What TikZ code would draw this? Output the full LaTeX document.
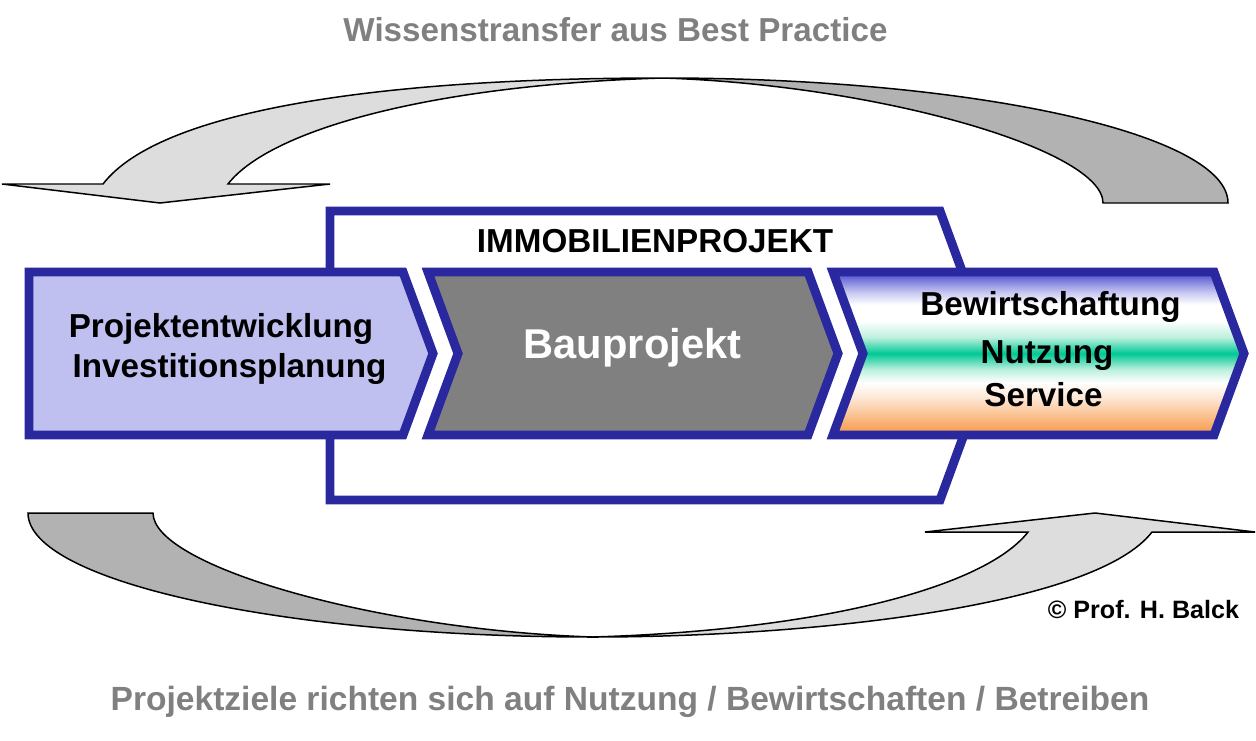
\documentclass[tikz,border=0pt]{standalone}
\usepackage{fontspec}
\setmainfont{Liberation Sans}
\definecolor{rahmen}{RGB}{42,40,158}
\definecolor{lavendel}{RGB}{191,191,240}
\definecolor{grau}{RGB}{128,128,128}
\definecolor{hell}{RGB}{221,221,221}
\definecolor{dunkel}{RGB}{178,178,178}
\definecolor{bwblau}{RGB}{70,70,205}
\definecolor{bwlila}{RGB}{195,195,240}
\definecolor{bwgruen}{RGB}{0,200,150}
\definecolor{bwmint}{RGB}{190,240,222}
\definecolor{bwpfirsich}{RGB}{253,228,208}
\definecolor{bwapricot}{RGB}{250,186,130}
\definecolor{bworange}{RGB}{245,150,70}
\pgfdeclareverticalshading{bwshade}{100bp}{color(0bp)=(bworange); color(25bp)=(bworange); color(30bp)=(bwapricot); color(36bp)=(bwpfirsich); color(41bp)=(white); color(45bp)=(bwmint); color(50bp)=(bwgruen); color(55bp)=(bwmint); color(60bp)=(white); color(65bp)=(white); color(69bp)=(bwlila); color(75bp)=(bwblau); color(100bp)=(bwblau)}

\begin{document}
\begin{tikzpicture}[x=0.02cm,y=-0.02cm,
  rand/.style={draw=rahmen,line width=5.1pt,line join=miter},
  pfeil/.style={draw=black,line width=0.85pt,line join=miter},
  txt/.style={anchor=base,inner sep=0pt,font=\bfseries\fontsize{18.9}{22}\selectfont}]
\useasboundingbox (0,0) rectangle (1256,740);

\draw[pfeil,fill=dunkel] (1103,203) .. controls (1103,150) and (880,85) .. (663,78)
  .. controls (975,78) and (1228,134) .. (1228,203) -- cycle;
\draw[pfeil,fill=hell] (2,184) -- (103,184) .. controls (160,110) and (380,78) .. (663,78)
  .. controls (430,85) and (270,130) .. (228,184) -- (330,184) -- (160,203) -- cycle;

\draw[pfeil,fill=dunkel] (28,513) .. controls (28,581) and (281,637) .. (593,637)
  .. controls (376,630) and (153,566) .. (153,513) -- cycle;
\draw[pfeil,fill=hell] (1255,532) -- (1152,532) .. controls (1095,606) and (812,637) .. (593,637)
  .. controls (826,630) and (986,586) .. (1028,532) -- (925,532) -- (1095,513) -- cycle;

\draw[rand,fill=white] (330,211) -- (940,211) -- (993,355.5) -- (940,500) -- (330,500) -- cycle;

\draw[rand,fill=lavendel] (29,272) -- (403,272) -- (433,353.5) -- (403,435) -- (29,435) -- cycle;
\draw[rand,fill=grau] (428,272) -- (808,272) -- (838,353.5) -- (808,435) -- (428,435) -- (458,353.5) -- cycle;
\draw[rand,shade,shading=bwshade] (833,272) -- (1214,272) -- (1244,353.5) -- (1214,435) -- (833,435) -- (863,353.5) -- cycle;

\node[txt,text=grau] (WT) at (615.5,42) {Wissenstransfer aus Best Practice};
\node[txt] (IP) at (655,252) {IMMOBILIENPROJEKT};
\node[txt] (PE) at (221,337) {Projektentwicklung};
\node[txt] (IV) at (229.5,377) {Investitionsplanung};
\node[txt,text=white,font=\bfseries\fontsize{23.7}{28}\selectfont] (BP) at (632.5,358.5) {Bauprojekt};
\node[txt] (BW) at (1050.5,315) {Bewirtschaftung};
\node[txt] (NU) at (1047,363) {Nutzung};
\node[txt] (SE) at (1043.5,406.5) {Service};
\node[txt,font=\bfseries\fontsize{14.3}{17}\selectfont] (CR) at (1143.5,618.5) {© Prof. H. Balck};
\node[txt,text=grau,font=\bfseries\fontsize{19.1}{22}\selectfont] (PZ) at (630,710) {Projektziele richten sich auf Nutzung / Bewirtschaften / Betreiben};
\end{tikzpicture}
\end{document}
